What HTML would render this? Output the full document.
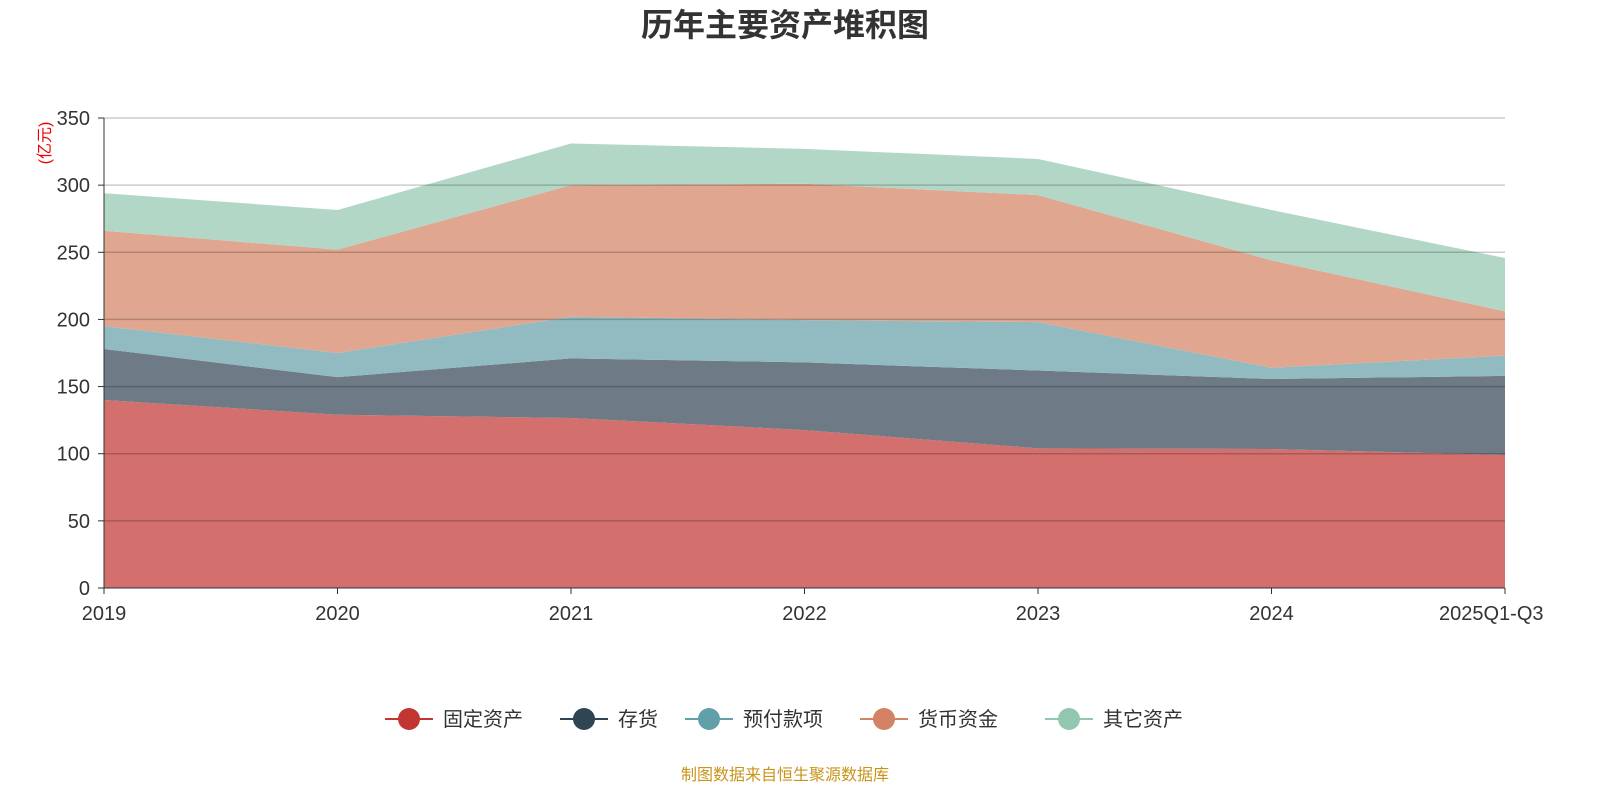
<!DOCTYPE html>
<html><head><meta charset="utf-8"><style>
body{margin:0;background:#fff;font-family:"Liberation Sans","Noto Sans CJK SC",sans-serif;}
</style></head><body>
<svg id="chart" width="1600" height="800" xmlns="http://www.w3.org/2000/svg" font-family="Liberation Sans, Noto Sans CJK SC, sans-serif">
<text x="785" y="36" text-anchor="middle" font-size="32" font-weight="bold" fill="#333">历年主要资产堆积图</text>
<text x="50" y="143" text-anchor="middle" font-size="16" fill="#e00" transform="rotate(-90 50 143)">(亿元)</text>
<g id="areas"></g><g id="grid"></g><g id="axes"></g><g id="legend"></g>
<text x="785" y="780" text-anchor="middle" font-size="16" fill="#c8941a">制图数据来自恒生聚源数据库</text>
</svg>
<script>
const categories=["2019","2020","2021","2022","2023","2024","2025Q1-Q3"];
const seriesNames=["固定资产","存货","预付款项","货币资金","其它资产"];
const fixedAssets=[140,129,126.6,117.6,104,103.5,99];
const inventory=[38,28,44.4,50.4,58,52.1,59];
const prepayments=[17,18,31,31.5,36,8.4,15];
const cash=[71,77,98,101.5,94.6,80,33];
const otherAssets=[28,29.5,31,26,26.9,37.5,39.7];
const yTicks=[0,50,100,150,200,250,300,350];
const series=[fixedAssets,inventory,prepayments,cash,otherAssets];
const fills=["#d36f6c","#6e7b86","#91bbc1","#e0a690","#b2d7c6"];
const lineCols=["#c23531","#2f4554","#61a0a8","#d48265","#91c7ae"];
const NS="http://www.w3.org/2000/svg";
const x0=104,x1=1505,y0=588,y1=118,ymax=350;
const xs=i=>x0+(x1-x0)*i/(categories.length-1);
const ys=v=>y0-(y0-y1)*v/ymax;
function mk(t,a,p){const e=document.createElementNS(NS,t);for(const k in a)e.setAttribute(k,a[k]);p.appendChild(e);return e;}
const areas=document.getElementById('areas');
let base=categories.map(()=>0);
series.forEach((s,si)=>{
  const top=base.map((b,i)=>b+s[i]);
  let d="M"+categories.map((c,i)=>xs(i)+","+ys(top[i])).join("L");
  for(let i=categories.length-1;i>=0;i--)d+="L"+xs(i)+","+ys(base[i]);
  const p=mk('path',{d:d+"Z",fill:fills[si]},areas);
  
  
  base=top;
});
const grid=document.getElementById('grid'),axes=document.getElementById('axes');
yTicks.forEach(t=>{
  if(t>0){const l=mk('line',{x1:x0,x2:x1,y1:ys(t),y2:ys(t),stroke:"rgba(0,0,0,0.2)","stroke-width":1.5},grid);
  }
  mk('line',{x1:x0-6,x2:x0,y1:ys(t),y2:ys(t),stroke:"#333"},axes);
  const tx=mk('text',{x:x0-14,y:ys(t)+7,"text-anchor":"end","font-size":20,fill:"#333"},axes);
  tx.textContent=t;
});
mk('line',{x1:x0,x2:x0,y1:y1,y2:y0,stroke:"#333"},axes);
mk('line',{x1:x0,x2:x1,y1:y0,y2:y0,stroke:"#333"},axes);
categories.forEach((c,i)=>{
  mk('line',{x1:xs(i),x2:xs(i),y1:y0,y2:y0+6,stroke:"#333"},axes);
  const tx=mk('text',{x:xs(i),y:620,"text-anchor":i==categories.length-1?"start":"middle","font-size":20,fill:"#333"},axes);
  if(i==categories.length-1)tx.setAttribute('x',xs(i)-66);
  tx.textContent=c;
});
const lg=document.getElementById('legend');
const lx=[385,560,685,860,1045];
seriesNames.forEach((n,i)=>{
  const g=mk('g',{},lg);
  
  mk('line',{x1:lx[i],x2:lx[i]+48,y1:719,y2:719,stroke:lineCols[i],"stroke-width":2},g);
  mk('circle',{cx:lx[i]+24,cy:719,r:11,fill:lineCols[i]},g);
  const t=mk('text',{x:lx[i]+58,y:726,"font-size":20,fill:"#333"},g);t.textContent=n;
});
</script>
</body></html>
